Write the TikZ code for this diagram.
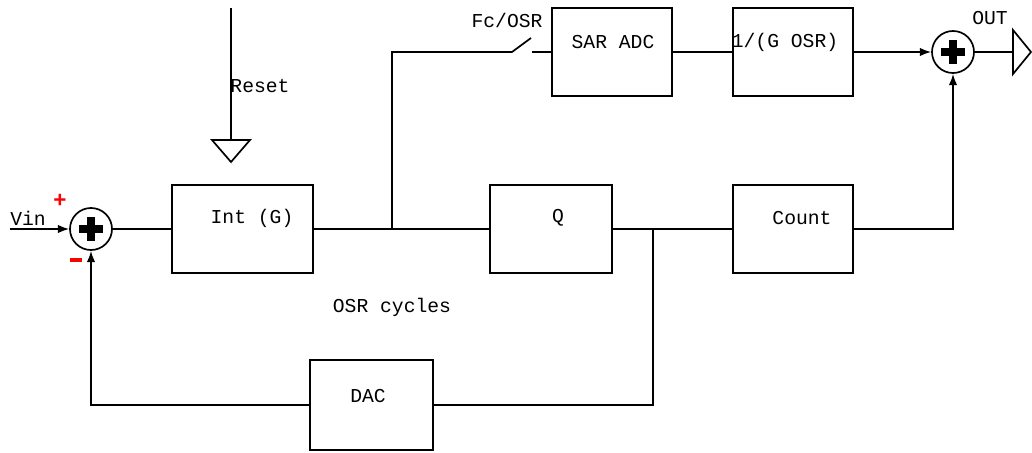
\documentclass[tikz,border=0pt]{standalone}
\usepackage{fontspec}
\setmonofont{Liberation Mono}
\setsansfont{Liberation Sans}
\usetikzlibrary{arrows.meta}

\tikzset{
  wire/.style={line width=1.2pt},
  sig/.style={wire, -{Latex[length=8pt,width=6pt]}},
  blk/.style={draw, line width=1.2pt, minimum height=2.2cm},
  lbl/.style={font=\ttfamily\fontsize{14}{16}\selectfont, inner sep=0pt},
  sign/.style={text=red, font=\sffamily\bfseries\fontsize{16}{18}\selectfont, inner sep=0pt},
  summer/.style={circle, draw, line width=1.2pt, minimum size=1.05cm, inner sep=0pt,
    path picture={
      \fill ([shift={(-0.3cm,-0.1cm)}]path picture bounding box.center)
        rectangle ([shift={(0.3cm,0.1cm)}]path picture bounding box.center);
      \fill ([shift={(-0.1cm,-0.3cm)}]path picture bounding box.center)
        rectangle ([shift={(0.1cm,0.3cm)}]path picture bounding box.center);
    }},
}

\begin{document}
\begin{tikzpicture}[x=0.025cm, y=-0.025cm]
        \useasboundingbox (0,0) rectangle (1032,453);

        % 方框
        \node[blk, minimum width=3.525cm] (int) at (242.5,229) {};
        \node[blk, minimum width=3.05cm] (quant) at (551,229) {};
        \node[blk, minimum width=3cm] (count) at (793,229) {};
        \node[blk, minimum width=3cm] (sar) at (612,52) {};
        \node[blk, minimum width=3cm] (gain) at (793,52) {};
        \node[blk, minimum width=3.075cm, minimum height=2.25cm] (dac) at (371.5,405) {};

        % 文字
        \node[lbl] (intlbl) at (252,218) {Int (G)};
        \node[lbl] (qlbl) at (558,218) {Q};
        \node[lbl] (countlbl) at (802,218) {Count};
        \node[lbl] (sarlbl) at (613,42) {SAR ADC};
        \node[lbl] (gainlbl) at (785,42) {1/(G OSR)};
        \node[lbl] (daclbl) at (368,396) {DAC};
        \node[lbl] (osrlbl) at (392,307) {OSR cycles};
        \node[lbl] (vinlbl) at (28,218) {Vin};
        \node[lbl] (rstlbl) at (260,86) {Reset};
        \node[lbl] (fclbl) at (507,20) {Fc/OSR};
        \node[lbl] (outlbl) at (990,18) {OUT};

        % 加法器
        \node[summer] (sum1) at (91,229) {};
        \node[summer] (sum2) at (953,52) {};
        \node[sign] (plus) at (60,201) {+};
        \node[sign] (minus) at (76,260) {\rule{9pt}{2.4pt}};

        % 输入
        \coordinate (vin) at (10,229);
        \draw[sig] (vin) -- (sum1.west);
        \draw[wire] (sum1.east) -- (int.west);

        % 复位
        \coordinate (rsttop) at (231,8);
        \coordinate (rstbot) at (231,140);
        \draw[wire] (rsttop) -- (rstbot);
        \draw[wire] (212,140) -- (250,140) -- (231,162) -- cycle;

        % 主通路
        \coordinate (tap) at (392,229);
        \draw[wire] (int.east) -- (quant.west);
        \coordinate (mid) at (653,229);
        \draw[wire] (quant.east) -- (count.west);

        % 开关与 SAR
        \coordinate (sw1) at (512,52);
        \coordinate (sw2) at (532,52);
        \draw[wire] (tap) |- (sw1) -- (531,38);
        \draw[wire] (sw2) -- (sar.west);
        \draw[wire] (sar.east) -- (gain.west);
        \draw[sig] (gain.east) -- (sum2.west);
        \draw[sig] (count.east) -| (sum2.south);

        % 输出
        \coordinate (outtip) at (1013,52);
        \draw[wire] (sum2.east) -- (outtip);
        \draw[wire] (1013,30) -- (1031,52) -- (1013,74) -- cycle;

        % 反馈
        \draw[wire] (mid) |- (dac.east);
        \draw[sig] (dac.west) -| (sum1.south);
    \end{tikzpicture}
\end{document}
